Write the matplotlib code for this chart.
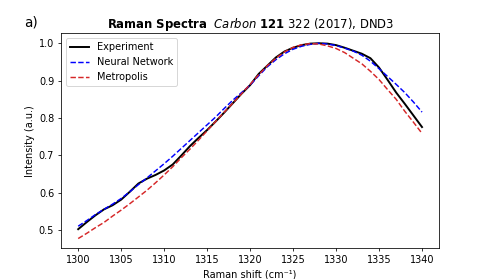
import matplotlib
matplotlib.use("Agg")
import matplotlib.pyplot as plt
import numpy as np

shift = np.arange(1300, 1341)

experiment = [0.503, 0.522, 0.540, 0.556, 0.567, 0.582, 0.603, 0.625, 0.638, 0.648,
              0.660, 0.676, 0.700, 0.725, 0.747, 0.768, 0.791, 0.815, 0.840, 0.865,
              0.888, 0.918, 0.940, 0.962, 0.978, 0.988, 0.995, 0.999, 1.000, 0.999,
              0.995, 0.988, 0.980, 0.972, 0.960, 0.935, 0.902, 0.868, 0.838, 0.807,
              0.776]
neural_network = [0.511, 0.526, 0.542, 0.556, 0.570, 0.585, 0.603, 0.622, 0.640, 0.659,
                  0.678, 0.698, 0.719, 0.740, 0.761, 0.782, 0.803, 0.826, 0.848, 0.868,
                  0.888, 0.913, 0.937, 0.956, 0.972, 0.984, 0.992, 0.997, 1.000, 0.998,
                  0.994, 0.987, 0.979, 0.968, 0.952, 0.932, 0.911, 0.890, 0.868, 0.843,
                  0.816]
metropolis = [0.478, 0.492, 0.507, 0.521, 0.538, 0.554, 0.571, 0.589, 0.607, 0.627,
              0.648, 0.670, 0.694, 0.717, 0.741, 0.766, 0.791, 0.816, 0.840, 0.865,
              0.890, 0.916, 0.940, 0.960, 0.977, 0.989, 0.996, 0.999, 0.998, 0.993,
              0.986, 0.975, 0.960, 0.945, 0.925, 0.903, 0.876, 0.850, 0.818, 0.789,
              0.759]

fig, ax = plt.subplots(figsize=(488 / 70, 279 / 70), dpi=70)
ax.plot(shift, experiment, "k-", lw=2, label="Experiment")
ax.plot(shift, neural_network, "b--", lw=1.5, label="Neural Network")
ax.plot(shift, metropolis, "--", color="tab:red", lw=1.5, label="Metropolis")

ax.set_xlabel("Raman shift (cm⁻¹)")
ax.set_ylabel("Intensity (a.u.)")
ax.set_title(r"$\bf{Raman\ Spectra}$  $\it{Carbon}$ $\bf{121}$ 322 (2017), DND3", fontsize=12)
ax.legend(loc="upper left")
fig.text(0.05, 0.918, "a)", fontsize=14, va="center")

fig.savefig("out.png", dpi=70)
